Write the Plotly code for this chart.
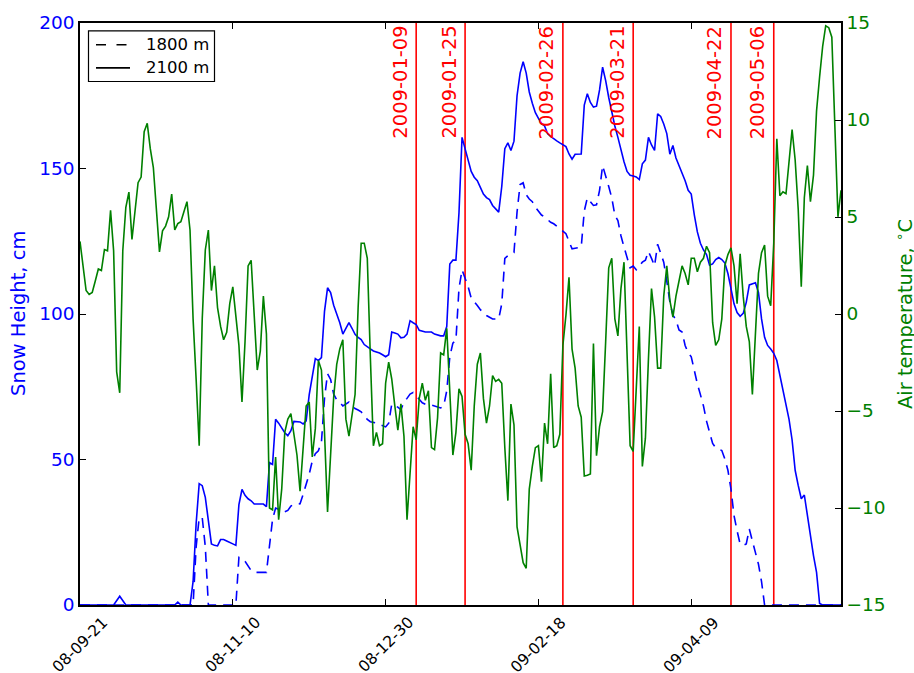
import pandas as pd
import plotly.graph_objects as go

START_DATE = "2008-09-21"
END_DATE = "2009-05-28"

# Air temperature (deg C), day offset from START_DATE
temp_day = [0,1,2,3,4,5,6,7,8,9,10,11,12,13,14,15,16,17,18,19,20,21,22,23,24,25,26,27,28,29,30,31,32,33,35,36,37,38,39,40,
            41,42,43,44,45,46,47,48,49,50,52,53,54,55,56,57,58,59,60,61,62,63,64,65,66,67,68,69,70,71,72,73,74,75,76,77,78,79,80,
            81,82,83,84,85,86,87,88,90,91,92,93,94,95,96,97,98,99,100,101,102,103,104,105,106,107,108,109,110,111,112,113,114,115,
            116,117,118,119,120,121,122,123,124,125,126,127,128,129,130,131,132,133,134,135,136,137,138,139,140,141,142,143,144,145,
            146,147,148,149,150,151,152,153,154,155,156,157,158,159,160,161,162,163,164,165,166,167,168,169,170,171,172,173,174,175,
            176,177,178,179,180,181,182,183,184,185,186,187,188,189,190,191,192,193,194,195,196,197,198,199,200,201,202,203,204,205,
            206,207,208,209,210,211,212,213,214,215,216,217,218,219,220,221,222,223,224,225,226,227,228,229,230,231,232,233,234,235,
            236,237,238,239,240,241,242,243,244,245,246,247,248,249]
temp_val = [3.74,2.48,1.21,1.01,1.11,1.70,2.32,2.24,3.32,3.26,5.34,3.26,-2.98,-4.06,3.26,5.50,6.28,3.84,5.21,6.77,7.06,9.40,9.83,8.52,7.55,5.21,3.20,4.29,4.53,5.01,6.18,4.33,4.66,4.76,5.79,4.33,-0.25,-3.37,-6.79,-0.25,
            3.30,4.33,1.21,2.48,0.33,-0.64,-1.33,-0.94,0.53,1.40,-1.62,-4.54,-1.42,2.48,2.77,-0.06,-2.89,-1.91,0.92,-1.03,-10.0,-10.1,-7.37,-10.6,-9.03,-6.10,-5.42,-5.13,-6.10,-7.28,-9.13,-6.89,-4.74,-4.54,-7.37,-5.91,-2.40,-2.89,-6.10,
            -10.2,-7.08,-4.30,-2.60,-1.80,-1.33,-5.42,-6.30,-4.15,0.33,3.65,3.65,2.87,-2.20,-6.79,-6.10,-6.79,-6.69,-3.57,-2.48,-3.35,-4.72,-5.99,-4.63,-6.30,-10.6,-8.23,-5.81,-6.49,-4.35,-3.57,-4.45,-3.96,-6.89,
            -6.99,-5.34,-2.01,-2.11,-0.74,-4.15,-7.27,-6.10,-3.86,-4.25,-6.20,-6.69,-8.05,-4.74,-2.59,-2.01,-4.35,-5.62,-4.74,-3.18,-3.47,-3.37,-3.57,-6.89,-9.62,-4.64,-5.71,-10.97,-11.94,-12.82,
            -13.11,-9.03,-7.86,-6.89,-6.79,-8.64,-5.62,-6.69,-3.08,-6.89,-6.79,-6.20,-1.62,-0.06,1.89,-1.81,-2.79,-4.74,-5.32,-8.35,-8.31,-8.25,-1.52,-7.30,-5.80,-5.03,-1.42,2.38,2.87,-0.25,
            -1.13,1.31,2.67,-1.81,-6.79,-7.08,-3.67,-0.64,-7.86,-6.40,-2.30,1.31,-0.16,-2.79,-2.79,0.92,2.48,0.72,-0.16,0.92,1.70,2.48,2.09,1.50,2.87,2.87,2.18,2.67,2.87,3.49,
            3.16,-0.45,-1.62,-1.33,-0.25,2.50,3.06,3.41,2.48,0.53,3.10,0.92,-0.64,-1.42,-4.15,-1.03,2.09,3.16,3.55,0.92,0.43,3.65,9.03,6.10,6.30,6.20,7.74,9.50,7.94,5.40,
            1.40,5.99,7.65,5.79,7.16,10.47,12.23,13.79,14.86,14.76,14.27,9.50,5.01,6.38]

# Snow height at 2100 m (cm)
snow2100_day = [0,11,13,15,31,32,33,36,37,38,39,40,41,42,43,44,45,46,47,48,49,50,51,52,53,54,55,56,57,60,61,62,63,64,65,66,67,68,69,70,
                71,72,73,74,75,76,77,78,79,80,81,82,83,84,85,86,87,88,89,90,91,92,93,94,95,96,97,98,99,100,101,102,103,104,105,106,107,108,109,110,
                111,112,113,114,115,116,117,118,119,120,121,122,123,124,125,126,127,128,129,130,131,132,133,134,135,136,137,138,139,140,
                141,142,143,144,145,146,147,148,149,150,151,152,153,154,155,156,157,158,159,160,161,162,163,164,165,166,167,168,169,170,
                171,172,173,174,175,176,177,178,179,180,181,182,183,184,185,186,187,188,189,190,191,192,193,194,195,196,197,198,199,200,
                201,202,203,204,205,206,207,208,209,210,211,212,213,214,215,216,217,218,219,220,221,222,223,224,225,226,227,228,229,230,
                231,232,233,234,235,236,237,238,239,240,241,242,243,249]
snow2100_val = [0,0,3,0,0,1,0,0,8,28,41.7,41,37,28,21,20.5,20.3,22.5,22.5,22,21.6,21,20.5,34.5,39.7,37.7,36.5,35.8,34.7,34.7,33.8,48.9,48.3,63.8,62.5,61,59.2,58.2,59.9,63.1,
                63,62.9,62.2,63.3,72.3,78,84.7,84,85,100.9,109,107.4,103,100,97,93.1,95,97,95.1,93,92,91.2,89.5,88.6,88,87.3,87,86.6,86,85.3,86,93.8,93.5,93.1,91.8,92,93.1,97.7,97,96.4,
                94.4,94,93.8,93.8,93.8,93.1,92.8,92.5,92.5,95.7,117.2,118.5,118.5,134.7,160.7,157,152.9,149,147,145.8,143.5,141.2,140,139.3,137.3,136,135,143.8,156.8,158.8,
                156.2,159.4,175,182.8,186.7,182.8,176.3,172.4,169.2,167.2,165.5,164.6,162,161,160.1,159.5,158.8,158.1,157.5,155,153.2,154.9,154.9,155,171.8,175.7,172.7,171.1,171.4,177,
                184.8,180.2,174.4,169.2,164.6,160.7,156.2,152.3,149,147.7,147.4,147.1,146.2,151.6,152.9,160.7,158.1,156.2,168.8,167.9,165.3,162,154.9,157.9,153.6,151,149,145.8,142.5,141.2,
                134.1,128.2,124.3,122,120.4,116.8,117.2,118.7,119.4,118.7,117.5,113.9,108.7,103.5,100.5,99.2,100.2,104,110,110.3,110.7,107.4,98.3,92,89.2,88,86.5,84,78.8,73.6,
                67.8,63.8,56.7,46.3,41.1,36.5,37.8,30.7,22.9,17,11.2,0.5,0,0]

# Snow height at 1800 m (cm)
snow1800_day = [0,37,38,39,40,41,42,51,52,53,54,55,56,57,61,62,63,64,65,66,67,68,69,70,71,72,73,74,75,76,77,78,79,80,
                81,82,83,84,85,86,87,88,89,90,91,92,93,94,95,96,97,98,99,100,101,102,103,104,105,106,107,108,109,110,
                111,112,113,114,115,116,117,118,119,120,121,122,123,124,125,126,127,128,129,130,131,132,133,134,135,136,137,138,139,140,
                141,142,143,144,145,146,147,148,149,150,151,152,153,154,155,156,157,158,159,160,161,162,163,164,165,166,167,168,169,170,
                171,172,173,174,175,176,177,178,179,180,181,182,183,184,185,186,187,188,189,190,191,192,193,194,195,196,197,198,199,200,
                201,202,203,204,205,206,207,208,209,210,211,212,213,214,215,216,217,218,219,220,221,222,223,224,249]
snow1800_val = [0,0,20,30,30,20,0,0,16.4,16,15,13.5,11.8,11.2,11.2,20.3,29.4,33.3,33,32.5,32,32.5,34,34.6,34.7,34.8,38,41.1,45,49.5,52,53,56,71,
                79.5,77.5,72.5,70.5,69.7,68.4,69,69.7,68.4,67.5,67,66.4,65,63.8,63,62.8,62.5,62,61.5,61.2,62.5,69,68.4,68,67.1,69.7,71,72.5,73,71.7,
                70.4,69.5,69,69,68.7,68.4,68,67.7,68.4,73.6,85.3,90,91,108.7,115.2,112.5,109.4,105.5,104,102.9,101.5,100.3,99.5,98.8,98.3,98.3,98.3,103.5,119.1,120,
                120.5,121.1,135,144.5,145.1,141,139.5,138.6,136.7,135.5,134,133.4,132.5,131.5,131,130.2,129.6,128.5,127.6,125,122.4,122.6,122.8,123,135.4,139.9,138.6,137.3,137.5,142.5,
                151,147.7,143.8,139.9,134,132.1,126.9,123,119.1,115.9,116.5,115.2,116.5,117.8,118.5,121.5,119.1,116.5,124,121.1,117.8,111.3,104.2,99.6,98,94.5,93.8,89.2,86.6,85.3,
                80.1,76,72.3,68.4,63.2,59.3,55.5,54,53.5,53.1,50.2,46.3,39.8,30.7,25.5,20.9,20.5,21,26.1,22.5,18,14,8,0,0]

event_dates = ["2009-01-09", "2009-01-25", "2009-02-26", "2009-03-21", "2009-04-22", "2009-05-06"]
xtick_dates = ["2008-09-21", "2008-11-10", "2008-12-30", "2009-02-18", "2009-04-09"]
xtick_labels = ["08-09-21", "08-11-10", "08-12-30", "09-02-18", "09-04-09"]
snow_ticks = [0, 50, 100, 150, 200]
temp_ticks = [-15, -10, -5, 0, 5, 10, 15]
legend_labels = ["1800 m", "2100 m"]

start = pd.Timestamp(START_DATE)
def to_dates(days):
    return [start + pd.Timedelta(days=d) for d in days]

BLUE, GREEN, RED = "#0000ff", "#008000", "#ff0000"
FONT = "DejaVu Sans"
LW = 1.6

# plot area in pixels (for placing the hand-drawn legend box)
PL, PR, PT, PB = 80, 841, 18, 605
def px(xp):
    return (xp - PL) / (PR - PL)
def py(yp):
    return (PB - yp) / (PB - PT)

fig = go.Figure()
fig.add_trace(go.Scatter(x=to_dates(snow1800_day), y=snow1800_val, mode="lines", name=legend_labels[0],
                         line=dict(color=BLUE, width=LW, dash="10px,7px"), showlegend=False, yaxis="y"))
fig.add_trace(go.Scatter(x=to_dates(snow2100_day), y=snow2100_val, mode="lines", name=legend_labels[1],
                         line=dict(color=BLUE, width=LW), showlegend=False, yaxis="y"))
fig.add_trace(go.Scatter(x=to_dates(temp_day), y=temp_val, mode="lines", name="Air temperature",
                         line=dict(color=GREEN, width=LW), showlegend=False, yaxis="y2"))

shapes = [dict(type="line", xref="x", yref="paper", x0=d, x1=d, y0=0, y1=1,
               line=dict(color=RED, width=LW), layer="below") for d in event_dates]

# legend box (drawn by hand to match the compact matplotlib legend)
shapes.append(dict(type="rect", xref="paper", yref="paper", x0=px(88.5), x1=px(214.5), y0=py(77), y1=py(26),
                   line=dict(color="black", width=1.2), fillcolor="white", layer="above"))
shapes.append(dict(type="line", xref="paper", yref="paper", x0=px(96), x1=px(127), y0=py(40), y1=py(40),
                   line=dict(color="black", width=LW, dash="10px,10.5px"), layer="above"))
shapes.append(dict(type="line", xref="paper", yref="paper", x0=px(96), x1=px(130), y0=py(63.3), y1=py(63.3),
                   line=dict(color="black", width=LW), layer="above"))

annotations = []
for lab, yy in zip(legend_labels, [40, 63.3]):
    annotations.append(dict(x=px(143.5), y=py(yy), xref="paper", yref="paper", text=lab, showarrow=False,
                            xanchor="left", yanchor="middle",
                            font=dict(family=FONT, size=16.5, color="black")))
for d in event_dates:
    annotations.append(dict(x=d, y=1, xref="x", yref="paper", text=d, showarrow=False,
                            textangle=-90, xanchor="center", yanchor="top", xshift=-16, yshift=-1,
                            font=dict(family=FONT, size=19.5, color=RED)))
for d, lab in zip(xtick_dates, xtick_labels):
    annotations.append(dict(x=d, y=0, xref="x", yref="paper", text=lab, showarrow=False,
                            textangle=-45, xanchor="center", yanchor="middle", yshift=-40,
                            font=dict(family=FONT, size=15.5, color="black")))
annotations.append(dict(x=px(18), y=0.5, xref="paper", yref="paper", text="Snow Height, cm",
                        showarrow=False, textangle=-90, xanchor="center", yanchor="middle",
                        font=dict(family=FONT, size=19.5, color=BLUE)))
annotations.append(dict(x=px(904), y=0.5, xref="paper", yref="paper", text="Air temperature, <sup>∘</sup>C",
                        showarrow=False, textangle=-90, xanchor="center", yanchor="middle",
                        font=dict(family=FONT, size=19.5, color=GREEN)))

fig.update_layout(
    width=914, height=673,
    margin=dict(l=PL, r=914 - PR, t=PT, b=673 - PB),
    paper_bgcolor="white", plot_bgcolor="white",
    font=dict(family=FONT, size=18.5, color="black"),
    shapes=shapes, annotations=annotations,
    showlegend=False,
    xaxis=dict(type="date", range=[START_DATE, END_DATE], tickvals=xtick_dates, showticklabels=False,
               ticks="inside", ticklen=6, tickwidth=1, tickcolor="black",
               showline=True, linecolor="black", linewidth=1.5, mirror="ticks",
               showgrid=False, zeroline=False),
    yaxis=dict(range=[0, 200], tickvals=snow_ticks, ticks="inside", ticklen=6, tickwidth=1, tickcolor="black",
               tickfont=dict(family=FONT, size=18.5, color=BLUE),
               showline=True, linecolor="black", linewidth=1.5, showgrid=False, zeroline=False),
    yaxis2=dict(range=[-15, 15], tickvals=temp_ticks, overlaying="y", side="right",
                ticks="inside", ticklen=6, tickwidth=1, tickcolor="black",
                tickfont=dict(family=FONT, size=18.5, color=GREEN),
                showline=True, linecolor="black", linewidth=1.5, showgrid=False, zeroline=False),
)

fig.write_html("out.html")
